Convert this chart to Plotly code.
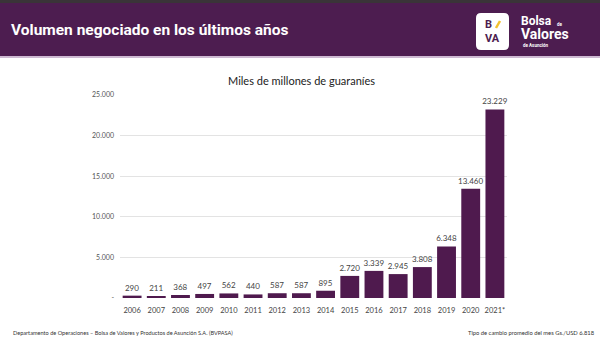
import plotly.graph_objects as go

years = ["2006", "2007", "2008", "2009", "2010", "2011", "2012", "2013",
         "2014", "2015", "2016", "2017", "2018", "2019", "2020", "2021*"]
volumes = [290, 211, 368, 497, 562, 440, 587, 587, 895, 2720, 3339, 2945,
           3808, 6348, 13460, 23229]
y_tickvals = [0, 5000, 10000, 15000, 20000, 25000]
y_ticktext = ["-", "5.000", "10.000", "15.000", "20.000", "25.000"]

W, H = 600, 341
PURPLE = "#4d1d50"
BAR = "#4f1a4e"


def px(x):
    return x / W


def py(y):
    return 1 - y / H


fig = go.Figure()
fig.add_trace(go.Bar(
    x=years, y=volumes, marker=dict(color=BAR, line=dict(width=0)),
    texttemplate="%{y:,}", textposition="outside", cliponaxis=False,
    constraintext="none",
    textfont=dict(family="Lato", size=8, color="#444444"),
    hoverinfo="skip",
))

shapes = [
    dict(type="rect", xref="paper", yref="paper", x0=0, x1=1, y0=py(3), y1=py(0),
         fillcolor="#3a3438", line=dict(width=0), layer="below"),
    dict(type="rect", xref="paper", yref="paper", x0=0, x1=1, y0=py(56), y1=py(3),
         fillcolor=PURPLE, line=dict(width=0), layer="below"),
    dict(type="rect", xref="paper", yref="paper", x0=0, x1=1, y0=py(58), y1=py(56),
         fillcolor="#cdb9d2", line=dict(width=0), layer="below"),
]
x0, x1, y0, y1, r = 476, 509, 13, 50, 5
path = (f"M {px(x0 + r)} {py(y0)} L {px(x1 - r)} {py(y0)} "
        f"Q {px(x1)} {py(y0)} {px(x1)} {py(y0 + r)} L {px(x1)} {py(y1 - r)} "
        f"Q {px(x1)} {py(y1)} {px(x1 - r)} {py(y1)} L {px(x0 + r)} {py(y1)} "
        f"Q {px(x0)} {py(y1)} {px(x0)} {py(y1 - r)} L {px(x0)} {py(y0 + r)} "
        f"Q {px(x0)} {py(y0)} {px(x0 + r)} {py(y0)} Z")
shapes.append(dict(type="path", xref="paper", yref="paper", path=path,
                   fillcolor="white", line=dict(width=0)))
shapes.append(dict(type="line", xref="paper", yref="paper", x0=px(496), y0=py(28),
                   x1=px(500), y1=py(21), line=dict(color="#f2c230", width=2.5)))


def ann(text, x, y, size, color, family="Roboto", xanchor="left"):
    return dict(text=text, x=px(x), y=py(y), xref="paper", yref="paper",
                xanchor=xanchor, yanchor="middle", showarrow=False, borderpad=0,
                font=dict(family=family, size=size, color=color))


annotations = [
    ann("<b>Volumen negociado en los últimos años</b>", 10, 30, 15.5, "white"),
    ann("<b>B</b>", 488, 24, 11, PURPLE, xanchor="center"),
    ann("<b>VA</b>", 492.5, 38, 11, PURPLE, xanchor="center"),
    ann("<b>Bolsa</b>", 520, 21.5, 12, "white"),
    ann("<b>de</b>", 556, 24, 4.5, "white"),
    ann("<b>Valores</b>", 520, 34, 14, "white"),
    ann("<b>de Asunción</b>", 522, 45.5, 4.5, "white"),
    ann("Miles de millones de guaraníes", 301, 80, 11, "#222222", "Lato", "center"),
    ann("Departamento de Operaciones – Bolsa de Valores y Productos de Asunción S.A. (BVPASA)",
        12, 332, 5.6, "#333333", "Lato"),
    ann("Tipo de cambio promedio del mes Gs./USD 6.818", 596, 332, 5.8, "#333333",
        "Lato", "right"),
]

fig.update_layout(
    width=W, height=H, margin=dict(l=0, r=0, t=0, b=0),
    paper_bgcolor="white", plot_bgcolor="white",
    separators=",.", showlegend=False, bargap=0.22,
    shapes=shapes, annotations=annotations,
    xaxis=dict(domain=[px(120), px(507)], type="category", automargin=False,
               showline=False, ticks="", showgrid=False, tickangle=0,
               ticklabelstandoff=6,
               tickfont=dict(family="Lato", size=7.5, color="#444444")),
    yaxis=dict(domain=[py(298), py(95)], range=[0, 25000], automargin=False,
               tickvals=y_tickvals, ticktext=y_ticktext, showline=False,
               zeroline=False, gridcolor="#e3e3e3", gridwidth=1,
               ticklabelstandoff=5,
               tickfont=dict(family="Lato", size=7, color="#555555")),
)

fig.write_html("out.html")
